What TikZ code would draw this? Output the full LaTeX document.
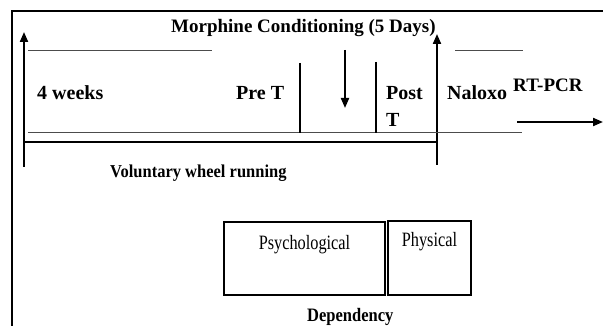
\documentclass[tikz,border=0pt]{standalone}
\usepackage{fontspec}
\setmainfont{Liberation Serif}
\usetikzlibrary{arrows.meta,positioning}

\begin{document}
\begin{tikzpicture}[x=1pt, y=-1pt,
    lbl/.style={inner sep=0pt, anchor=base west, font=\fontsize{20}{22}\selectfont\bfseries},
    sublbl/.style={inner sep=0pt, anchor=base west, font=\fontsize{16.5}{18}\selectfont\bfseries},
    boxtxt/.style={inner sep=0pt, anchor=north, font=\fontsize{16.3}{18}\selectfont},
    box/.style={draw, line width=2pt, minimum width=#1, minimum height=73pt, inner sep=0pt},
    thin/.style={black!70, line width=1pt},
    arr/.style={line width=2pt, -{Triangle[length=10pt,width=8pt]}}]
    \useasboundingbox (0,0) rectangle (603,326);

    % frame
    \draw[line width=2pt] (12,326) -- (12,11) -- (603,11);

    % time axis
    \coordinate (start) at (24,167);
    \coordinate (starttop) at (24,32);
    \coordinate (naloxbot) at (437,165);
    \coordinate (naloxtop) at (437,34);
    \draw[arr] (start) -- (starttop);
    \draw[arr] (naloxbot) -- (naloxtop);
    \draw[line width=2.5pt] (24,142) -- (437,142);

    % thin guide lines
    \draw[thin] (28,51) -- (212,51);
    \draw[thin] (455,51) -- (523,51);
    \draw[thin] (28,133) -- (522,133);

    % test markers
    \draw[line width=1.2pt] (300,63) -- (300,133);
    \draw[line width=1.2pt] (376,62) -- (376,133);
    \coordinate (inj) at (345,50);
    \coordinate (injend) at (345,108);
    \draw[arr] (inj) -- (injend);
    \coordinate (pcr) at (517,122);
    \coordinate (pcrend) at (603,122);
    \draw[arr] (pcr) -- (pcrend);

    % labels
    \node[lbl, font=\fontsize{19}{21}\selectfont\bfseries] (morph) at (171,33) {Morphine Conditioning (5 Days)};
    \node[lbl] (weeks) at (37,100) {4 weeks};
    \node[lbl] (pret) at (236,100) {Pre T};
    \node[lbl] (post) at (386,100) {Post};
    \node[lbl] (postt) at (386,127) {T};
    \node[lbl] (nalox) at (447,100) {Naloxo};
    \node[lbl, font=\fontsize{19}{21}\selectfont\bfseries] (rtpcr) at (513,92) {RT-PCR};
    \node[sublbl] (wheel) at (110,178) {\scalebox{1}[1.1]{Voluntary wheel running}};

    % dependency boxes
    \node[box=161pt] (psy) at (304.5,258.5) {};
    \node[box=83pt] (phys) at (429.5,258) {};
    \node[boxtxt, below=14pt of psy.north] (psytext) {\scalebox{1}[1.25]{Psychological}};
    \node[boxtxt, below=12pt of phys.north] (phystext) {\scalebox{1}[1.25]{Physical}};
    \node[sublbl] (dep) at (307,321) {\scalebox{1}[1.15]{Dependency}};
\end{tikzpicture}
\end{document}
